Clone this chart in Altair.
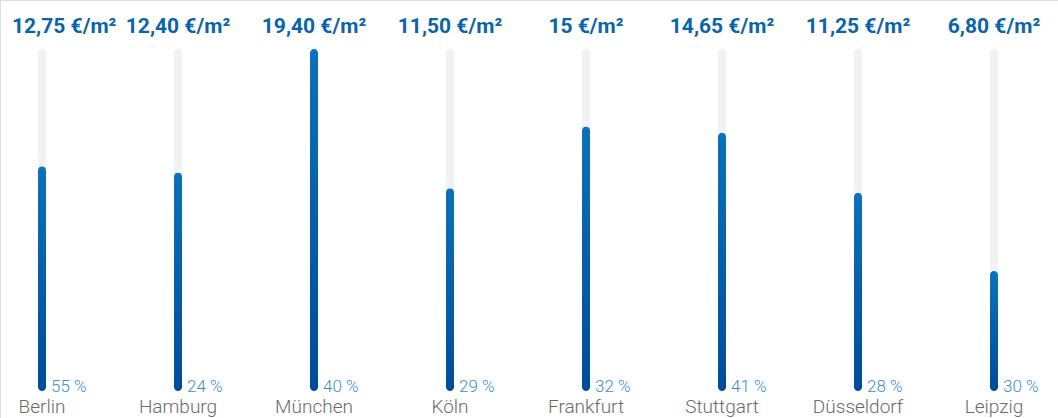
import altair as alt
import pandas as pd

# Average rents per city, share value shown next to each bar
cities = ["Berlin", "Hamburg", "München", "Köln", "Frankfurt", "Stuttgart", "Düsseldorf", "Leipzig"]
rent = [12.75, 12.40, 19.40, 11.50, 15.00, 14.65, 11.25, 6.80]
rent_labels = ["12,75 €/m²", "12,40 €/m²", "19,40 €/m²", "11,50 €/m²", "15 €/m²", "14,65 €/m²", "11,25 €/m²", "6,80 €/m²"]
share_labels = ["55 %", "24 %", "40 %", "29 %", "32 %", "41 %", "28 %", "30 %"]

df = pd.DataFrame({
    "city": cities,
    "rent": rent,
    "rent_label": rent_labels,
    "share": share_labels,
})
df["track"] = max(rent)

FONT = "Roboto"

x = alt.X("city:N", sort=cities, axis=None,
          scale=alt.Scale(type="point", range=[42, 994], padding=0))
yscale = alt.Scale(domain=[0, max(rent)], range=[391, 49], nice=False, zero=True)

base = alt.Chart(df)

track = base.mark_bar(width=8, cornerRadius=4, color="#f2f2f2").encode(
    x=x, y=alt.Y("track:Q", scale=yscale, axis=None)
)

bars = base.mark_bar(
    width=8,
    cornerRadius=4,
    color=alt.Gradient(
        gradient="linear",
        stops=[alt.GradientStop(color="#0b72bb", offset=0),
               alt.GradientStop(color="#004c9c", offset=1)],
        x1=0, x2=0, y1=0, y2=1,
    ),
).encode(x=x, y=alt.Y("rent:Q", scale=yscale, axis=None))

price_text = dict(font=FONT, fontSize=21, fontWeight="bold", color="#0a64a8", baseline="alphabetic")

prices = base.transform_filter(alt.datum.city != cities[0]).mark_text(
    align="center", **price_text
).encode(x=x, y=alt.value(33), text="rent_label:N")

price_first = base.transform_filter(alt.datum.city == cities[0]).mark_text(
    align="left", dx=-30, **price_text
).encode(x=x, y=alt.value(33), text="rent_label:N")

shares = base.mark_text(
    align="left", baseline="alphabetic", dx=9, font=FONT, fontSize=17,
    fontWeight=300, color="#3a8dcf"
).encode(x=x, y=alt.value(392), text="share:N")

names = base.mark_text(
    align="center", baseline="alphabetic", font=FONT, fontSize=19,
    fontWeight=300, color="#6a6a6a"
).encode(x=x, y=alt.value(413), text="city:N")

chart = alt.layer(track, bars, prices, price_first, shares, names).properties(
    width=1058, height=418,
    autosize=alt.AutoSizeParams(type="none"),
    padding=0,
).configure_view(stroke=None).configure(background="white")

chart.save("out.html", embed_options={"renderer": "svg", "actions": False})
